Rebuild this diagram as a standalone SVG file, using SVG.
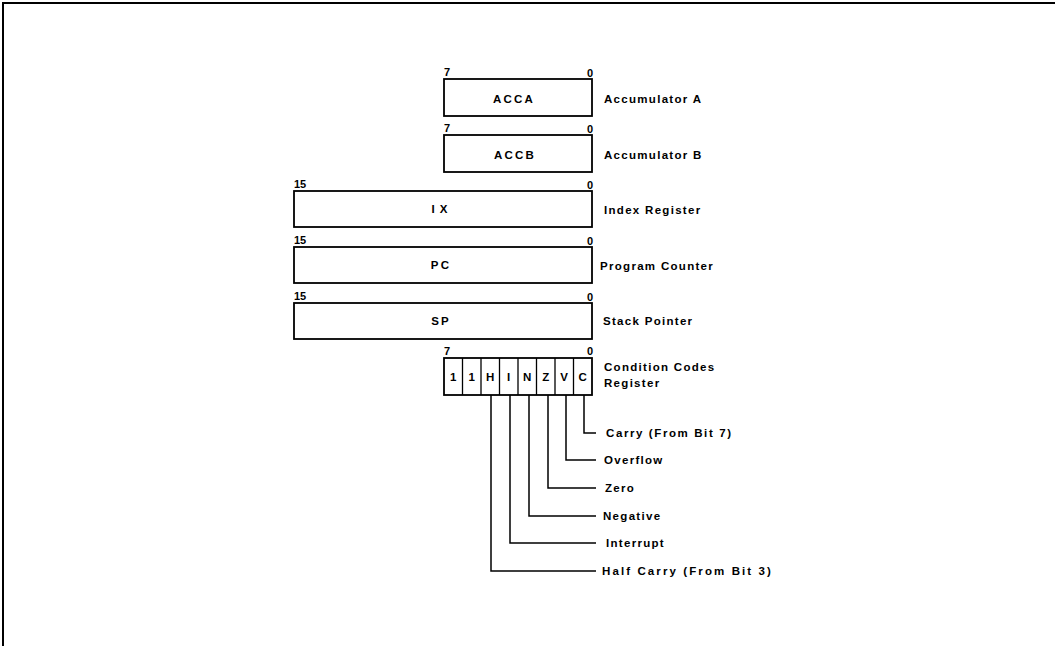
<svg xmlns="http://www.w3.org/2000/svg" width="1055" height="646" viewBox="0 0 1055 646">
<style>
.bg{fill:#fff}
.box{fill:#fff;stroke:#000;stroke-width:1.8}
.cell{fill:none;stroke:#000;stroke-width:1.3}
.t{font-family:"Liberation Sans",Arial,sans-serif;font-weight:bold;font-size:11.5px;fill:#000;letter-spacing:1.3px}
.b{font-family:"Liberation Sans",Arial,sans-serif;font-weight:bold;font-size:11.5px;fill:#000;letter-spacing:2.2px;text-anchor:middle}
.f{font-family:"Liberation Sans",Arial,sans-serif;font-weight:bold;font-size:11.5px;fill:#000;text-anchor:middle}
.n{font-family:"Liberation Sans",Arial,sans-serif;font-weight:bold;font-size:11px;fill:#000}
.m{text-anchor:middle}
.c{fill:none;stroke:#000;stroke-width:1.5}
.frame{fill:none;stroke:#000;stroke-width:2}
</style>
<rect class="bg" x="0" y="0" width="1055" height="646"/>
<path class="frame" d="M3,646 V3 H1055"/>

<g id="acca">
<rect class="box" x="444" y="79" width="148" height="37"/>
<text class="n" x="444" y="76">7</text>
<text class="n m" x="590" y="77">0</text>
<text class="b" x="514" y="103">ACCA</text>
<text class="t" x="604" y="103">Accumulator A</text>
</g>
<g id="accb">
<rect class="box" x="444" y="135" width="148" height="37"/>
<text class="n" x="444" y="132">7</text>
<text class="n m" x="590" y="133">0</text>
<text class="b" x="515" y="159">ACCB</text>
<text class="t" x="604" y="159">Accumulator B</text>
</g>
<g id="ix">
<rect class="box" x="294" y="191" width="298" height="36"/>
<text class="n" x="294" y="188">15</text>
<text class="n m" x="590" y="189">0</text>
<text class="b" x="442" y="213" style="letter-spacing:5px">IX</text>
<text class="t" x="604" y="214">Index Register</text>
</g>
<g id="pc">
<rect class="box" x="294" y="247" width="298" height="36"/>
<text class="n" x="294" y="244">15</text>
<text class="n m" x="590" y="245">0</text>
<text class="b" x="441" y="269">PC</text>
<text class="t" x="600" y="270">Program Counter</text>
</g>
<g id="sp">
<rect class="box" x="294" y="303" width="298" height="36"/>
<text class="n" x="294" y="300">15</text>
<text class="n m" x="590" y="301">0</text>
<text class="b" x="441" y="325">SP</text>
<text class="t" x="603" y="325">Stack Pointer</text>
</g>
<g id="ccr">
<rect class="box" x="444" y="358" width="148" height="37"/>
<path class="cell" d="M462.5,358V395M481,358V395M499.5,358V395M518,358V395M536.5,358V395M555,358V395M573.5,358V395"/>
<text class="n" x="444" y="355">7</text>
<text class="n m" x="590" y="355">0</text>
<text class="f" x="453.2" y="381">1</text>
<text class="f" x="471.7" y="381">1</text>
<text class="f" x="490.2" y="381">H</text>
<text class="f" x="508.7" y="381">I</text>
<text class="f" x="527.2" y="381">N</text>
<text class="f" x="545.7" y="381">Z</text>
<text class="f" x="564.2" y="381">V</text>
<text class="f" x="582.7" y="381">C</text>
<text class="t" x="604" y="371">Condition Codes</text>
<text class="t" x="604" y="387">Register</text>
</g>
<g id="flags">
<text class="t" x="606" y="437" style="letter-spacing:1.6px">Carry (From Bit 7)</text>
<text class="t" x="604" y="464">Overflow</text>
<text class="t" x="605" y="492">Zero</text>
<text class="t" x="603" y="520">Negative</text>
<text class="t" x="606" y="547">Interrupt</text>
<text class="t" x="602" y="575" style="letter-spacing:2.1px">Half Carry (From Bit 3)</text>
</g>
<g id="connectors">
<path class="c" d="M584,395V433H596"/>
<path class="c" d="M566,395V460H596"/>
<path class="c" d="M548,395V488H596"/>
<path class="c" d="M529,395V516H596"/>
<path class="c" d="M510,395V543H596"/>
<path class="c" d="M491,395V571H596"/>
</g>
</svg>
